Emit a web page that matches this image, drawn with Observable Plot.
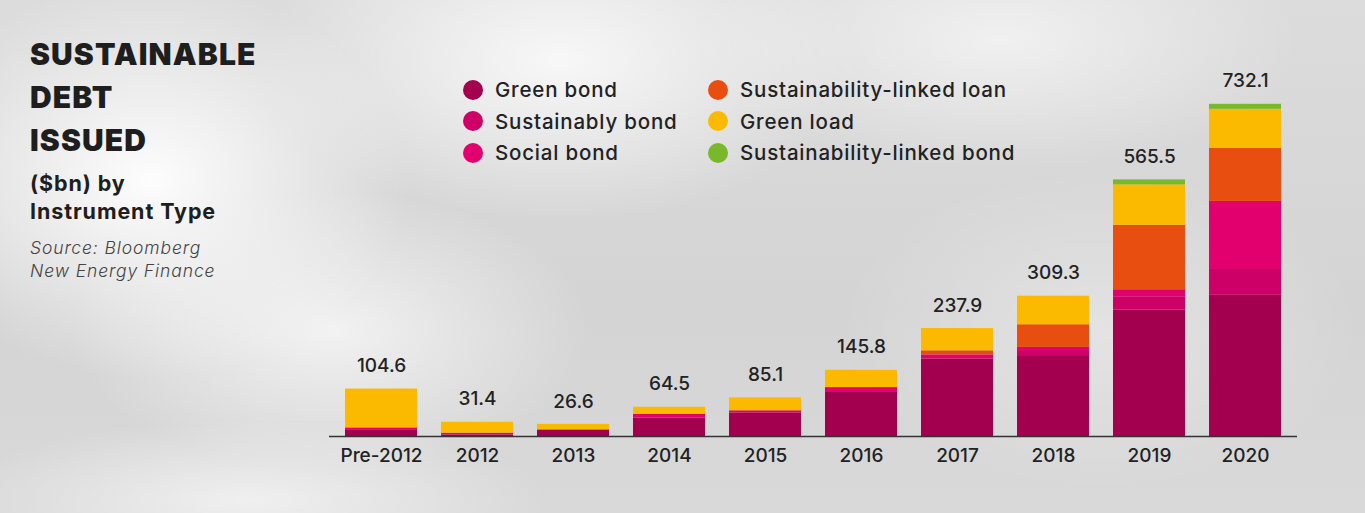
<!DOCTYPE html>
<html>
<head>
<meta charset="utf-8">
<script src="https://cdn.jsdelivr.net/npm/d3@7"></script>
<script src="https://cdn.jsdelivr.net/npm/@observablehq/plot@0.6"></script>
<style>
  html, body { margin: 0; padding: 0; }
  body {
    width: 1365px; height: 513px; overflow: hidden; position: relative;
    font-family: Inter, "Noto Sans", sans-serif; color: #222;
    background:
      radial-gradient(ellipse 260px 200px at 150px 180px, rgba(255,255,255,0.95), rgba(255,255,255,0) 100%),
      radial-gradient(ellipse 300px 160px at 560px 60px, rgba(255,255,255,0.8), rgba(255,255,255,0) 100%),
      radial-gradient(ellipse 260px 140px at 330px 330px, rgba(255,255,255,0.7), rgba(255,255,255,0) 100%),
      radial-gradient(ellipse 300px 130px at 1000px 40px, rgba(255,255,255,0.6), rgba(255,255,255,0) 100%),
      radial-gradient(ellipse 260px 160px at 1100px 330px, rgba(255,255,255,0.35), rgba(255,255,255,0) 100%),
      radial-gradient(ellipse 300px 80px at 250px 500px, rgba(255,255,255,0.6), rgba(255,255,255,0) 100%),
      linear-gradient(180deg, #dcdcdc 0%, #d4d4d4 60%, #d9d9d9 100%);
  }
  #chart { position: absolute; left: 0; top: 0; }
  #title { position: absolute; left: 30px; top: 33px; }
  #title .big { font-weight: 900; font-size: 30px; line-height: 43px; letter-spacing: 1.1px; color: #1e1e1e; }
  #title .sub { font-weight: 700; font-size: 21.5px; line-height: 28px; margin-top: 7px; letter-spacing: 0.9px; color: #1e1e1e; }
  #title .src { font-style: italic; font-weight: 300; font-size: 17.5px; line-height: 23px; margin-top: 11px; letter-spacing: 0.9px; color: #444; }
  .legend { position: absolute; }
  .legend .item { display: flex; align-items: center; height: 31.5px; font-size: 20.5px; font-weight: 500; letter-spacing: 0.8px; color: #222; }
  .legend .sw { width: 20px; height: 20px; border-radius: 50%; margin-right: 12px; flex: none; }
</style>
</head>
<body>
<div id="chart"></div>
<div id="title">
  <div class="big">SUSTAINABLE<br>DEBT<br>ISSUED</div>
  <div class="sub">($bn) by<br>Instrument Type</div>
  <div class="src">Source: Bloomberg<br>New Energy Finance</div>
</div>
<div class="legend" id="leg1" style="left:463px; top:74px;"></div>
<div class="legend" id="leg2" style="left:708px; top:74px;"></div>
<script>
const categories = ["Pre-2012", "2012", "2013", "2014", "2015", "2016", "2017", "2018", "2019", "2020"];
const totals = [104.6, 31.4, 26.6, 64.5, 85.1, 145.8, 237.9, 309.3, 565.5, 732.1];
const seriesNames = ["Green bond", "Sustainably bond", "Social bond", "Sustainability-linked loan", "Green load", "Sustainability-linked bond"];
const seriesColors = ["#a3004f", "#cc0066", "#e2006e", "#e84e10", "#fbb900", "#78b82a"];
const greenBond = [15, 3.4, 14.6, 40.5, 52, 98.8, 170.9, 176.3, 279, 311.1];
const sustainabilityBond = [0, 0, 0, 0, 0, 0, 0, 11, 29, 57];
const socialBond = [4, 4, 0, 8, 4.7, 9, 9, 9, 15.5, 150];
const sustainabilityLinkedLoan = [0, 0, 0, 0, 0, 0, 9, 50, 142, 117];
const greenLoan = [85.6, 24, 12, 16, 28.4, 38, 49, 63, 89, 86];
const sustainabilityLinkedBond = [0, 0, 0, 0, 0, 0, 0, 0, 11, 11];

const seriesValues = [greenBond, sustainabilityBond, socialBond, sustainabilityLinkedLoan, greenLoan, sustainabilityLinkedBond];
const rows = [];
categories.forEach((c, i) => {
  seriesNames.forEach((s, j) => rows.push({category: c, series: s, value: seriesValues[j][i]}));
});
const totalRows = categories.map((c, i) => ({category: c, total: totals[i]}));

const chart = Plot.plot({
  width: 1365,
  height: 513,
  marginLeft: 329,
  marginRight: 68,
  marginTop: 73,
  marginBottom: 77,
  style: {background: "transparent", fontFamily: "Inter, 'Noto Sans', sans-serif", color: "#222"},
  x: {domain: categories, paddingInner: 0.255, paddingOuter: 0.134, label: null},
  y: {domain: [0, 800], axis: null},
  color: {domain: seriesNames, range: seriesColors},
  marks: [
    Plot.barY(rows, {x: "category", y: "value", fill: "series", order: seriesNames}),
    Plot.ruleY([0], {stroke: "#333", strokeWidth: 1.5}),
    Plot.axisX({tickSize: 0, tickPadding: 12, fontSize: 19, fontWeight: 500, fill: "#222", label: null}),
    Plot.text(totalRows, {x: "category", y: "total", text: d => d.total.toFixed(1), dy: -23, fontSize: 19, fontWeight: 500, fill: "#222"})
  ]
});
document.getElementById("chart").appendChild(chart);

function legend(el, names) {
  names.forEach(n => {
    const item = document.createElement("div");
    item.className = "item";
    const sw = document.createElement("span");
    sw.className = "sw";
    sw.style.background = seriesColors[seriesNames.indexOf(n)];
    item.appendChild(sw);
    item.appendChild(document.createTextNode(n));
    el.appendChild(item);
  });
}
legend(document.getElementById("leg1"), seriesNames.slice(0, 3));
legend(document.getElementById("leg2"), seriesNames.slice(3));
</script>
</body>
</html>
